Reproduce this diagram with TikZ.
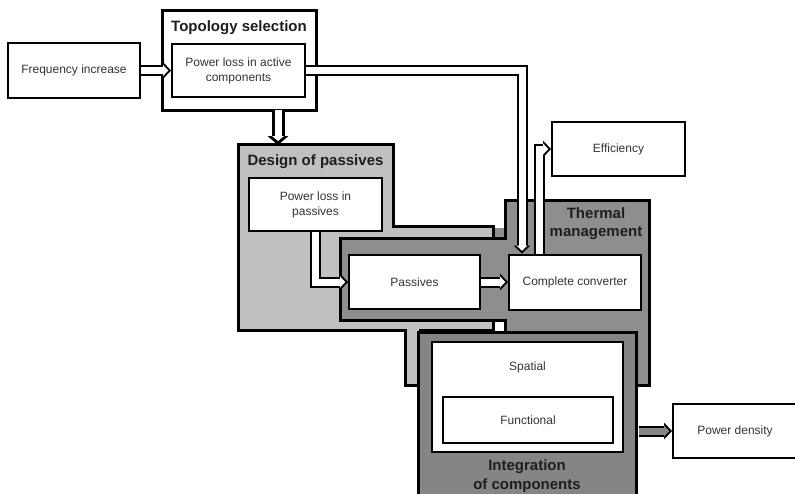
\documentclass[tikz,border=0pt]{standalone}
\usepackage{fontspec}
\setmainfont{Liberation Sans}
\usetikzlibrary{arrows.meta}
\definecolor{lg}{HTML}{C0C0C0}
\definecolor{dg}{HTML}{8E8E8E}
\definecolor{ig}{HTML}{858585}
\definecolor{txt}{HTML}{333333}
\definecolor{ttlc}{HTML}{1E1E1E}
\begin{document}
\begin{tikzpicture}[x=1pt,y=-1pt,
  box/.style={draw=black, line width=2pt, fill=white, rectangle, inner sep=2pt, align=center,
    font=\fontsize{12}{15}\selectfont, text=txt},
  outerbox/.style={draw=black, line width=3pt, rectangle, inner sep=0pt},
  region/.style={draw=black, line width=3pt, line join=miter},
  ttl/.style={font=\bfseries\fontsize{15}{18.5}\selectfont, text=ttlc, align=center},
  lbl/.style={font=\fontsize{12}{15}\selectfont, text=txt},
  hol/.style={line width=11pt, black, -{Triangle[width=17pt,length=8pt,line width=0pt]},
    postaction={draw, white, line width=7pt, shorten >=2.75pt, -{Triangle[width=11.2pt,length=5.25pt,line width=0pt]}}},
  holg/.style={line width=11pt, black, -{Triangle[width=17pt,length=8pt,line width=0pt]},
    postaction={draw, ig, line width=7pt, shorten >=2.75pt, -{Triangle[width=11.2pt,length=5.25pt,line width=0pt]}}},
  holthick/.style={line width=13pt, black, -{Triangle[width=21pt,length=9pt,line width=0pt]},
    postaction={draw, white, line width=7pt, shorten >=3.95pt, -{Triangle[width=12pt,length=5.05pt,line width=0pt]}}},
]
\useasboundingbox (0,0) rectangle (795,493);
\clip (0,0) rectangle (795,493);

% Design of passives region
\draw[region, fill=lg] (238,144) -- (393,144) -- (393,226) -- (493,226) -- (493,330)
  -- (420,330) -- (420,385) -- (405,385) -- (405,330) -- (238,330) -- cycle;
\fill[dg] (494.5,227.5) rectangle (504,237);
% Thermal management region
\draw[region, fill=dg] (505,200) -- (649,200) -- (649,385) -- (630,385) -- (630,332)
  -- (505,332) -- (505,320) -- (340,320) -- (340,238) -- (505,238) -- cycle;
% Integration of components
\node[outerbox, fill=ig, minimum width=218pt, minimum height=168pt] (integ) at (527,416) {};
% Topology selection
\node[outerbox, fill=white, minimum width=154pt, minimum height=100pt] (topo) at (239,60) {};

% Titles
\node[ttl] (ttopo) at (239,28) {Topology selection};
\node[ttl] (tdes) at (315.5,162) {Design of passives};
\node[ttl] (tthm) at (596,223.5) {Thermal\\management};
\node[ttl] (tint) at (527,476) {Integration\\of components};

\coordinate (dtop) at (278,145);

% Inner boxes (positions needed by connectors)
\path
  node[box, minimum width=132pt, minimum height=55pt] (freq) at (74,70.5) {}
  node[box, minimum width=133pt, minimum height=53pt] (pla) at (238.5,70.5) {}
  node[box, minimum width=133pt, minimum height=53pt] (plp) at (315.5,204.5) {}
  node[box, minimum width=131pt, minimum height=54pt] (pas) at (414.5,282) {}
  node[box, minimum width=132pt, minimum height=55pt] (conv) at (575,282) {}
  node[box, minimum width=133pt, minimum height=54pt] (eff) at (618.5,149) {}
  node[box, minimum width=124pt, minimum height=54pt] (pd) at (735,431) {};

% Connectors
\draw[hol] (freq.east) -- (pla.west);
\draw[hol] (pla.east) -| ([xshift=-53pt]conv.north);
\draw[holthick] ([xshift=39pt,yshift=2pt]topo.south) -- (dtop);
\draw[hol] (plp.south) |- (pas.west);
\draw[hol] (pas.east) -- (conv.west);
\draw[hol] ([xshift=-36pt]conv.north) |- (eff.west);
\draw[holg] ([xshift=1.5pt]integ.east |- pd.west) -- (pd.west);

% Inner boxes drawn on top
\node[box, minimum width=132pt, minimum height=55pt] (freqb) at (74,70.5) {Frequency increase};
\node[box, minimum width=133pt, minimum height=53pt] (plab) at (238.5,70.5) {Power loss in active\\components};
\node[box, minimum width=133pt, minimum height=53pt] (plpb) at (315.5,204.5) {Power loss in\\passives};
\node[box, minimum width=131pt, minimum height=54pt] (pasb) at (414.5,282) {Passives};
\node[box, minimum width=132pt, minimum height=55pt] (convb) at (575,282) {Complete converter};
\node[box, minimum width=133pt, minimum height=54pt] (effb) at (618.5,149) {Efficiency};
\node[box, minimum width=124pt, minimum height=54pt] (pdb) at (735,431) {Power density};
\node[box, minimum width=191pt, minimum height=110pt] (spat) at (527.5,397) {};
\node[lbl] (spatl) at (527.5,367) {Spatial};
\node[box, minimum width=170pt, minimum height=46pt] (func) at (528,420) {Functional};
\end{tikzpicture}
\end{document}
